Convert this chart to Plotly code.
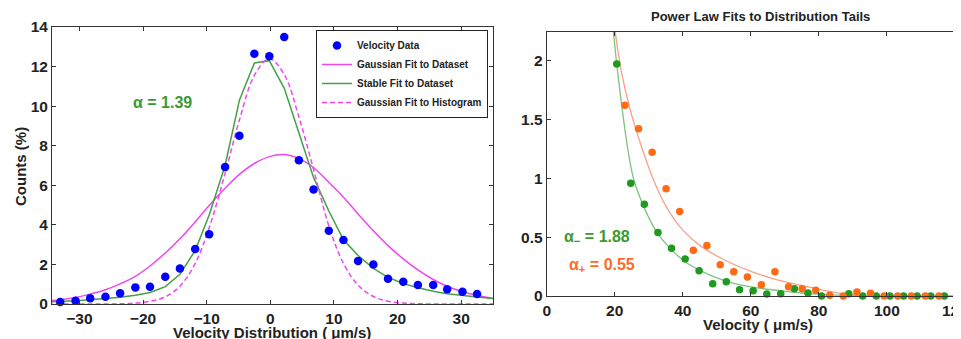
import plotly.graph_objects as go

# ---------------- Left panel data ----------------
vel_x = [-33.0, -30.6, -28.3, -25.9, -23.6, -21.2, -18.9, -16.5, -14.2, -11.8, -9.6, -7.1, -4.85,
         -2.5, -0.15, 2.2, 4.5, 6.8, 9.2, 11.5, 13.8, 16.2, 18.5, 20.9, 23.2, 25.6, 27.8, 30.2, 32.5]
vel_counts = [0.1, 0.17, 0.29, 0.37, 0.54, 0.84, 0.87, 1.38, 1.8, 2.78, 3.53, 6.93, 8.5,
              12.65, 12.52, 13.5, 7.27, 5.79, 3.70, 3.23, 2.17, 2.0, 1.28, 1.13, 0.96, 0.96, 0.74, 0.62, 0.5]

fit_x = [-35.0, -33.0, -30.6, -28.3, -25.9, -23.6, -21.2, -18.9, -16.5, -14.2, -11.8, -9.6, -7.1, -4.85,
         -2.5, -0.15, 2.2, 4.5, 6.8, 9.2, 11.5, 13.8, 16.2, 18.5, 20.9, 23.2, 25.6, 27.8, 30.2, 32.5, 35.0]
gauss_dataset = [0.15, 0.22, 0.33, 0.5, 0.72, 1.02, 1.4, 1.92, 2.58, 3.3, 4.15, 4.98, 5.85, 6.55,
                 7.1, 7.45, 7.55, 7.35, 6.9, 6.15, 5.4, 4.55, 3.7, 2.95, 2.28, 1.72, 1.24, 0.9, 0.62, 0.43, 0.28]
stable_fit = [0.1, 0.12, 0.16, 0.21, 0.27, 0.34, 0.44, 0.58, 0.88, 1.5, 2.7, 4.5, 7.0, 10.3,
              12.18, 12.3, 10.9, 8.6, 6.4, 4.7, 3.25, 2.45, 1.8, 1.35, 1.03, 0.82, 0.64, 0.52, 0.42, 0.35, 0.28]
gauss_hist = [0.0, 0.0, 0.0, 0.0, 0.003, 0.012, 0.045, 0.14, 0.36, 0.9, 2.05, 3.85, 6.6, 9.3,
              11.55, 12.4, 11.6, 9.45, 6.8, 3.95, 2.05, 0.95, 0.38, 0.14, 0.045, 0.012, 0.003, 0.0, 0.0, 0.0, 0.0]

left_xticks = [-30, -20, -10, 0, 10, 20, 30]
left_yticks = [0, 2, 4, 6, 8, 10, 12, 14]

# ---------------- Right panel data ----------------
neg_x = [20.6, 24.7, 28.7, 32.7, 36.7, 40.7, 44.8, 48.8, 52.8, 56.7, 60.7, 64.7, 68.8, 72.8, 76.8,
         80.8, 84.8, 88.8, 92.9, 96.9, 100.9, 104.9, 108.9, 112.9, 116.9, 121.0]
neg_y = [1.97, 0.957, 0.78, 0.54, 0.405, 0.314, 0.215, 0.105, 0.122, 0.054, 0.045, 0.017, 0.02, 0.062, 0.025,
         0.0, -0.005, 0.02, 0.0, 0.0, 0.0, 0.0, 0.0, 0.0, 0.0, 0.0]
pos_x = [23.0, 27.0, 31.0, 35.1, 39.1, 43.1, 47.1, 51.0, 55.0, 59.0, 63.1, 67.1, 71.1, 75.1, 79.1,
         83.2, 87.2, 91.2, 95.2, 99.2, 103.2, 107.2, 111.3, 115.3]
pos_y = [1.62, 1.42, 1.22, 0.91, 0.717, 0.388, 0.428, 0.266, 0.207, 0.161, 0.096, 0.207, 0.079, 0.062, 0.048,
         0.006, 0.0, 0.034, 0.023, 0.0, 0.0, 0.0, 0.0, 0.0]

neg_fit_x = [19.6, 20.6, 22.5, 24.0, 25.5, 27.0, 28.5, 32.3, 36.8, 41.2, 48.0, 55.0, 63.0, 71.0, 78.0, 86.0, 95.0, 121.0]
neg_fit_y = [2.25, 1.97, 1.52, 1.22, 1.0, 0.87, 0.76, 0.545, 0.39, 0.28, 0.178, 0.108, 0.065, 0.037, 0.018, 0.007, 0.002, 0.0]
pos_fit_x = [20.1, 22.0, 24.2, 26.5, 28.9, 31.2, 34.0, 36.8, 40.0, 45.0, 52.0, 60.0, 67.5, 76.5, 82.0, 88.0, 95.0, 121.0]
pos_fit_y = [2.25, 1.9, 1.62, 1.39, 1.18, 1.0, 0.82, 0.68, 0.56, 0.43, 0.31, 0.21, 0.14, 0.08, 0.045, 0.015, 0.003, 0.0]

right_xticks = [0, 20, 40, 60, 80, 100, 120]
right_yticks = [0, 0.5, 1, 1.5, 2]

FONT = "Liberation Sans, Arial, Helvetica, sans-serif"
TEXT = "#222222"

# The page body has an 8 px margin, so the figure is 8 px smaller than the window
W, H = 953, 331
OFF = 8


def px(x):
    return (x - OFF) / W


def py(y):
    return 1 - (y - OFF) / H


fig = go.Figure()

# Left panel curves
fig.add_trace(go.Scatter(x=fit_x, y=gauss_dataset, mode="lines", name="Gaussian Fit to Dataset",
                         line=dict(color="#f046f0", width=1.5, shape="spline"), legendrank=2,
                         xaxis="x", yaxis="y"))
fig.add_trace(go.Scatter(x=fit_x, y=stable_fit, mode="lines", name="Stable Fit to Dataset",
                         line=dict(color="#45a045", width=1.5), legendrank=3,
                         xaxis="x", yaxis="y"))
fig.add_trace(go.Scatter(x=fit_x, y=gauss_hist, mode="lines", name="Gaussian Fit to Histogram",
                         line=dict(color="#f046f0", width=1.5, dash="5px,3px", shape="spline"), legendrank=4,
                         xaxis="x", yaxis="y"))
fig.add_trace(go.Scatter(x=vel_x, y=vel_counts, mode="markers", name="Velocity Data",
                         marker=dict(color="#0000ff", size=8.5), legendrank=1, cliponaxis=False,
                         xaxis="x", yaxis="y"))

# Right panel
fig.add_trace(go.Scatter(x=neg_fit_x, y=neg_fit_y, mode="lines", showlegend=False,
                         line=dict(color="#80c280", width=1.3, shape="spline"), xaxis="x2", yaxis="y2"))
fig.add_trace(go.Scatter(x=pos_fit_x, y=pos_fit_y, mode="lines", showlegend=False,
                         line=dict(color="#f8a088", width=1.3, shape="spline"), xaxis="x2", yaxis="y2"))
fig.add_trace(go.Scatter(x=neg_x, y=neg_y, mode="markers", showlegend=False, cliponaxis=False,
                         marker=dict(color="#1e9a1e", size=7.5), xaxis="x2", yaxis="y2"))
fig.add_trace(go.Scatter(x=pos_x, y=pos_y, mode="markers", showlegend=False, cliponaxis=False,
                         marker=dict(color="#ff6a14", size=7.5), xaxis="x2", yaxis="y2"))

axis_common = dict(showline=True, linecolor="#333333", linewidth=1, mirror="ticks", ticks="inside",
                   ticklen=4, tickcolor="#333333", showgrid=False, zeroline=False, automargin=False,
                   ticklabeloverflow="allow",
                   tickfont=dict(family=FONT, size=15.5, color=TEXT, weight="bold"))

fig.update_layout(
    template="none",
    width=W, height=H, autosize=False,
    margin=dict(l=0, r=0, t=0, b=0, pad=0, autoexpand=False),
    paper_bgcolor="white", plot_bgcolor="white",
    xaxis=dict(domain=[px(52), px(493)], range=[-34.3, 35], anchor="y", tickvals=left_xticks, **axis_common),
    yaxis=dict(domain=[py(304), py(27)], range=[0, 14], anchor="x", tickvals=left_yticks, **axis_common),
    xaxis2=dict(domain=[px(546.7), 1.0], range=[0, 121.8], anchor="y2", tickvals=right_xticks, **axis_common),
    yaxis2=dict(domain=[py(296), py(31.7)], range=[0, 2.245], anchor="x2", tickvals=right_yticks, **axis_common),
    legend=dict(x=px(488), xanchor="right", y=py(30), yanchor="top", bgcolor="white",
                bordercolor="#222222", borderwidth=1, tracegroupgap=0, itemwidth=30,
                font=dict(family=FONT, size=10, color=TEXT, weight="bold")),
    showlegend=True,
)

annos = [
    dict(text="α = 1.39", x=-17.0, y=10.2, xref="x", yref="y", showarrow=False,
         font=dict(family=FONT, size=16, color="#3a9a32", weight="bold")),
    dict(text="α<sub>−</sub> = 1.88", x=14.7, y=0.5, xref="x2", yref="y2", showarrow=False,
         font=dict(family=FONT, size=16, color="#3d9b2b", weight="bold")),
    dict(text="α<sub>+</sub> = 0.55", x=16.2, y=0.257, xref="x2", yref="y2", showarrow=False,
         font=dict(family=FONT, size=16, color="#ff6a28", weight="bold")),
    dict(text="Counts (%)", x=px(20), y=py(167), textangle=-90,
         font=dict(family=FONT, size=15, color=TEXT, weight="bold")),
    dict(text="Velocity Distribution ( μm/s)", x=px(272), y=py(332),
         font=dict(family=FONT, size=15, color=TEXT, weight="bold")),
    dict(text="Velocity ( μm/s)", x=px(758), y=py(324),
         font=dict(family=FONT, size=15, color=TEXT, weight="bold")),
    dict(text="Power Law Fits to Distribution Tails", x=px(760), y=py(16),
         font=dict(family=FONT, size=13, color=TEXT, weight="bold")),
]
for a in annos[3:]:
    a.update(xref="paper", yref="paper", xanchor="center", yanchor="middle", showarrow=False)
fig.update_layout(annotations=annos)

fig.write_html("out.html")
